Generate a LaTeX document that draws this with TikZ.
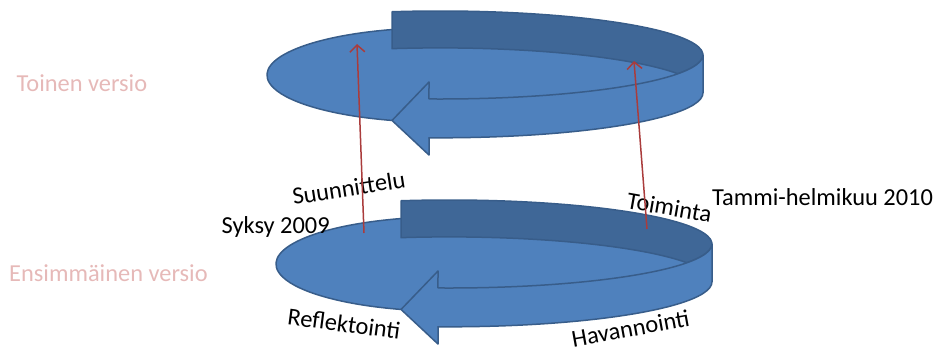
\documentclass[tikz,border=0pt]{standalone}
\usepackage{fontspec}
\setmainfont{Carlito}
\usetikzlibrary{arrows.meta}

\definecolor{ringlight}{RGB}{79,129,189}
\definecolor{ringdark}{RGB}{63,103,151}
\definecolor{ringedge}{RGB}{56,93,138}
\definecolor{versionpink}{RGB}{230,185,184}
\definecolor{linkred}{RGB}{170,60,60}

\tikzset{
  ringline/.style={draw=ringedge, line width=1.5pt, line join=round},
  txt/.style={font=\fontsize{24.4}{28}\selectfont, inner sep=0pt, text=black},
  version/.style={txt, text=versionpink},
  link/.style={draw=linkred, line width=1.5pt,
    -{Straight Barb[length=7pt,width=15pt,line width=1.5pt]}},
  % one turn of the cycle: a flat disc with a circular wall ending in an arrow head
  cyclering/.pic={
    % disc and the open inside of the ring
    \fill[ringlight] (440,75) ellipse[x radius=173, y radius=47.3];
    \fill[ringlight] (392.07,48.55)
      arc[start angle=-100.5, end angle=-25.2, x radius=263, y radius=45]
      arc[start angle=25.2, end angle=92.4, x radius=263, y radius=44] -- cycle;
    % left rim of the disc
    \draw[ringline] (392.03,29.55)
      arc[start angle=-106.1, end angle=-253.9, x radius=173, y radius=47.3];
    % inner face of the back wall
    \filldraw[ringline, fill=ringdark] (392.07,11.74)
      arc[start angle=-100.5, end angle=25.2, x radius=263, y radius=44]
      arc[start angle=-25.2, end angle=-100.5, x radius=263, y radius=45] -- cycle;
    % front wall with the arrow head
    \filldraw[ringline, fill=ringlight] (392.03,120.45) -- (429,82) -- (428.98,98.96)
      arc[start angle=92.4, end angle=0, x radius=263, y radius=44]
      -- (703,92.8)
      arc[start angle=0, end angle=92.4, x radius=263, y radius=45]
      -- (429,155) -- cycle;
  }
}

\begin{document}
\begin{tikzpicture}[x=1pt,y=-1pt]
  \useasboundingbox (0,0) rectangle (941,349);

  % the two cycles
  \pic at (0,0) {cyclering};
  \pic at (9,189) {cyclering};

  % version labels
  \node[version, anchor=base west] (second) at (16.5,91.5) {Toinen versio};
  \node[version, anchor=base west] (first) at (9,281.5) {Ensimmäinen versio};

  % dates
  \node[txt, anchor=base west] (autumn) at (221.5,233) {Syksy 2009};
  \node[txt, anchor=base west] (winter) at (712,205) {Tammi-helmikuu 2010};

  % phases of the cycle
  \node[txt, anchor=base, rotate=8.9] (plan) at (350,196) {Suunnittelu};
  \node[txt, anchor=base, rotate=-10] (act) at (668,215.5) {Toiminta};
  \node[txt, anchor=base, rotate=-7.5] (reflect) at (343,332) {Reflektointi};
  \node[txt, anchor=base, rotate=10.3] (observe) at (632,336.5) {Havannointi};

  % links from the first cycle to the second
  \coordinate (planFrom) at (364,233);
  \coordinate (planTo) at (357,44);
  \coordinate (actFrom) at (647,229);
  \coordinate (actTo) at (634,61);
  \draw[link] (planFrom) -- (planTo);
  \draw[link] (actFrom) -- (actTo);
\end{tikzpicture}
\end{document}
